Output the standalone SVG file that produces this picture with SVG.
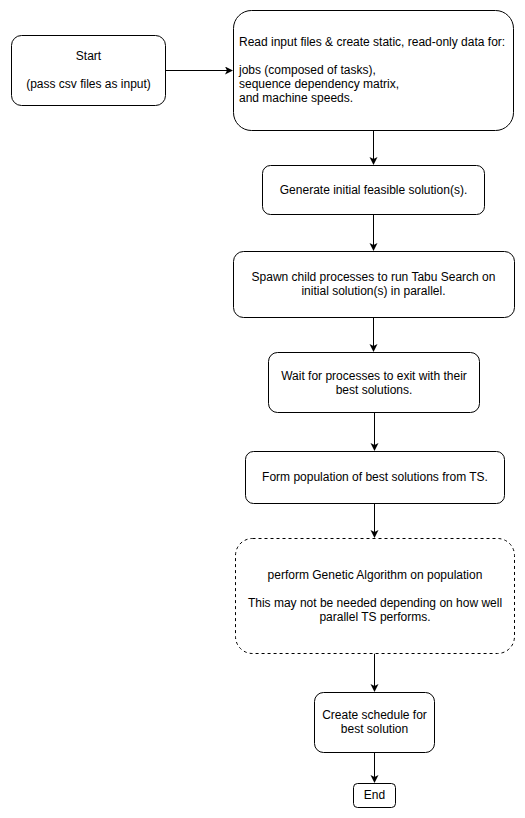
<svg xmlns="http://www.w3.org/2000/svg" width="525" height="818" viewBox="0 0 525 818">
<defs>
<style>
.n{fill:#fff;stroke:#000;stroke-width:1}
.d{stroke-dasharray:3 3}
.t{font-family:"Liberation Sans",Arial,sans-serif;font-size:12px;fill:#000}
.c{text-anchor:middle}
.e{fill:none;stroke:#000;stroke-width:1}
</style>
<marker id="a" markerWidth="10" markerHeight="10" refX="7" refY="4" orient="auto" markerUnits="userSpaceOnUse">
<path d="M0,0 L8,4 L0,8 L2,4 Z" fill="#000"/>
</marker>
</defs>
<rect width="525" height="818" fill="#fff"/>
<g id="connectors">
<path class="e" d="M165.5,70.5 H232" marker-end="url(#a)"/>
<path class="e" d="M373.5,130.5 V164" marker-end="url(#a)"/>
<path class="e" d="M373.5,214.5 V250" marker-end="url(#a)"/>
<path class="e" d="M373.5,317.5 V351" marker-end="url(#a)"/>
<path class="e" d="M374.5,412.5 V450" marker-end="url(#a)"/>
<path class="e" d="M374.5,503.5 V537" marker-end="url(#a)"/>
<path class="e" d="M374.5,653.5 V691" marker-end="url(#a)"/>
<path class="e" d="M374.5,752.5 V782" marker-end="url(#a)"/>
</g>
<g id="start">
<rect class="n" x="11.5" y="35.5" width="154" height="70" rx="10"/>
<text class="t c" x="88.5" y="60">Start</text>
<text class="t c" x="88.5" y="88">(pass csv files as input)</text>
</g>
<g id="read">
<rect class="n" x="233.5" y="10.5" width="280" height="120" rx="18"/>
<text class="t" x="239" y="46">Read input files &amp; create static, read-only data for:</text>
<text class="t" x="239" y="74">jobs (composed of tasks),</text>
<text class="t" x="239" y="88">sequence dependency matrix,</text>
<text class="t" x="239" y="102">and machine speeds.</text>
</g>
<g id="generate">
<rect class="n" x="262.5" y="165.5" width="222" height="49" rx="8"/>
<text class="t c" x="373.5" y="194">Generate initial feasible solution(s).</text>
</g>
<g id="spawn">
<rect class="n" x="233.5" y="251.5" width="281" height="66" rx="10"/>
<text class="t c" x="373.5" y="281">Spawn child processes to run Tabu Search on</text>
<text class="t c" x="373.5" y="295">initial solution(s) in parallel.</text>
</g>
<g id="wait">
<rect class="n" x="268.5" y="352.5" width="211" height="60" rx="9"/>
<text class="t c" x="374" y="380">Wait for processes to exit with their</text>
<text class="t c" x="374" y="394">best solutions.</text>
</g>
<g id="form">
<rect class="n" x="245.5" y="451.5" width="259" height="52" rx="8"/>
<text class="t c" x="375" y="481">Form population of best solutions from TS.</text>
</g>
<g id="ga">
<rect class="n d" x="235.5" y="538.5" width="279" height="115" rx="17"/>
<text class="t c" x="375" y="579">perform Genetic Algorithm on population</text>
<text class="t c" x="375" y="607">This may not be needed depending on how well</text>
<text class="t c" x="375" y="621">parallel TS performs.</text>
</g>
<g id="create">
<rect class="n" x="314.5" y="692.5" width="120" height="60" rx="9"/>
<text class="t c" x="374.5" y="719">Create schedule for</text>
<text class="t c" x="374.5" y="733">best solution</text>
</g>
<g id="end">
<rect class="n" x="353.5" y="783.5" width="42" height="24" rx="4"/>
<text class="t c" x="374.5" y="799">End</text>
</g>
</svg>
